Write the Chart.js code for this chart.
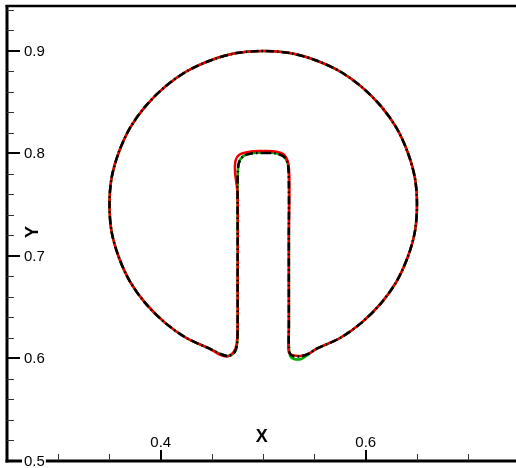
<!DOCTYPE html>
<html>
<head>
<meta charset="utf-8">
<script src="https://cdn.jsdelivr.net/npm/chart.js@4.4.1/dist/chart.umd.min.js"></script>
<style>
  html, body { margin: 0; padding: 0; background: #ffffff; overflow: hidden; }
  #c { display: block; }
</style>
</head>
<body>
<canvas id="c" width="516" height="468"></canvas>
<script>
// ---------- data ----------
const exactX = [0.500,0.512,0.520,0.524,0.525,0.525,0.525,0.525,0.525,0.526,0.530,0.538,0.545,0.551,
  0.575,0.596,0.615,0.630,0.641,0.648,0.650,0.648,0.641,0.630,0.615,0.596,0.575,0.551,0.526,0.500,
  0.474,0.449,0.425,0.404,0.385,0.370,0.359,0.352,0.350,0.352,0.359,0.370,0.385,0.404,0.425,0.449,
  0.458,0.466,0.472,0.4745,0.475,0.475,0.475,0.475,0.476,0.480,0.488,0.500];
const exactY = [0.8005,0.800,0.797,0.790,0.770,0.720,0.670,0.630,0.614,0.605,0.602,0.6025,0.605,0.609,
  0.620,0.635,0.654,0.675,0.699,0.724,0.750,0.776,0.801,0.825,0.846,0.865,0.880,0.891,0.898,0.900,
  0.898,0.891,0.880,0.865,0.846,0.825,0.801,0.776,0.750,0.724,0.699,0.675,0.654,0.635,0.620,0.609,
  0.6045,0.6025,0.606,0.614,0.630,0.670,0.720,0.770,0.790,0.797,0.800,0.8005];

const redX = [0.500,0.512,0.520,0.5245,0.5255,0.525,0.525,0.525,0.5245,0.525,0.528,0.536,0.545,0.551,
  0.575,0.596,0.615,0.630,0.641,0.648,0.650,0.648,0.641,0.630,0.615,0.596,0.575,0.551,0.526,0.500,
  0.474,0.449,0.425,0.404,0.385,0.370,0.359,0.352,0.350,0.352,0.359,0.370,0.385,0.404,0.425,0.449,
  0.458,0.465,0.471,0.474,0.475,0.475,0.475,0.4725,0.4730,0.477,0.488,0.500];
const redY = [0.8025,0.802,0.799,0.790,0.770,0.720,0.670,0.630,0.614,0.606,0.6035,0.6025,0.605,0.609,
  0.620,0.635,0.654,0.675,0.699,0.724,0.750,0.776,0.801,0.825,0.846,0.865,0.880,0.891,0.898,0.900,
  0.898,0.891,0.880,0.865,0.846,0.825,0.801,0.776,0.750,0.724,0.699,0.675,0.654,0.635,0.620,0.609,
  0.6035,0.6020,0.606,0.614,0.630,0.670,0.760,0.782,0.793,0.799,0.802,0.8025];

const greenX = [0.500,0.512,0.520,0.524,0.525,0.525,0.525,0.525,0.525,0.5265,0.530,0.537,0.544,0.551,
  0.575,0.596,0.615,0.630,0.641,0.648,0.650,0.648,0.641,0.630,0.615,0.596,0.575,0.551,0.526,0.500,
  0.474,0.449,0.425,0.404,0.385,0.370,0.359,0.352,0.350,0.352,0.359,0.370,0.385,0.404,0.425,0.449,
  0.458,0.466,0.472,0.4745,0.475,0.475,0.475,0.475,0.476,0.480,0.488,0.500];
const greenY = [0.801,0.8005,0.797,0.790,0.770,0.720,0.670,0.630,0.612,0.602,0.5995,0.5995,0.604,0.609,
  0.620,0.635,0.654,0.675,0.699,0.724,0.750,0.776,0.801,0.825,0.846,0.865,0.880,0.891,0.898,0.900,
  0.898,0.891,0.880,0.865,0.846,0.825,0.801,0.776,0.750,0.724,0.699,0.675,0.654,0.635,0.620,0.609,
  0.6045,0.6025,0.606,0.614,0.630,0.670,0.720,0.770,0.790,0.797,0.800,0.801];

// ---------- ticks ----------
const xMajorTicks = [0.4, 0.6];
const xTickLabels = ['0.4', '0.6'];
const xMinorTicks = [0.3, 0.35, 0.45, 0.5, 0.55, 0.65, 0.7];
const yMajorTicks = [0.5, 0.6, 0.7, 0.8, 0.9];
const yTickLabels = ['0.5', '0.6', '0.7', '0.8', '0.9'];
const yMinorTicks = [0.52,0.54,0.56,0.58,0.62,0.64,0.66,0.68,0.72,0.74,0.76,0.78,0.82,0.84,0.86,0.88,0.92,0.94];
const xTitle = 'X';
const yTitle = 'Y';

function pts(xs, ys) { return xs.map((x, i) => ({ x: x, y: ys[i] })); }

const FONT = '"Liberation Sans", Arial, Helvetica, sans-serif';

const axesPlugin = {
  id: 'tecAxes',
  afterDraw(chart) {
    const c = chart.ctx, xs = chart.scales.x, ys = chart.scales.y, a = chart.chartArea;
    c.save();
    c.strokeStyle = '#000'; c.lineCap = 'butt';
    // axis lines
    c.lineWidth = 3;
    c.beginPath(); c.moveTo(a.left, a.bottom + 1.5); c.lineTo(a.left, a.top - 1); c.stroke();
    c.beginPath(); c.moveTo(a.left - 1.5, a.bottom); c.lineTo(chart.width, a.bottom); c.stroke();
    c.lineWidth = 2.5;
    c.beginPath(); c.moveTo(a.left - 1.5, a.top); c.lineTo(chart.width, a.top); c.stroke();
    // minor ticks
    c.lineWidth = 1; c.strokeStyle = '#333';
    yMinorTicks.forEach(v => { const p = Math.round(ys.getPixelForValue(v)) + 0.5;
      c.beginPath(); c.moveTo(a.left, p); c.lineTo(a.left + 7, p); c.stroke(); });
    xMinorTicks.forEach(v => { const p = Math.round(xs.getPixelForValue(v)) + 0.5;
      c.beginPath(); c.moveTo(p, a.bottom); c.lineTo(p, a.bottom - 7); c.stroke(); });
    // major ticks
    c.lineWidth = 2; c.strokeStyle = '#000';
    yMajorTicks.forEach(v => { const p = Math.round(ys.getPixelForValue(v));
      c.beginPath(); c.moveTo(a.left, p); c.lineTo(a.left + 13, p); c.stroke(); });
    xMajorTicks.forEach(v => { const p = Math.round(xs.getPixelForValue(v));
      c.beginPath(); c.moveTo(p, a.bottom); c.lineTo(p, a.bottom - 11); c.stroke(); });
    // tick labels
    c.font = '15px ' + FONT; c.fillStyle = '#000';
    c.textAlign = 'left'; c.textBaseline = 'middle';
    yMajorTicks.forEach((v, i) => {
      const p = ys.getPixelForValue(v);
      const w = c.measureText(yTickLabels[i]).width;
      c.fillStyle = '#fff'; c.fillRect(a.left + 15, p - 7, w + 3, 14);
      c.fillStyle = '#000'; c.fillText(yTickLabels[i], a.left + 17, p + 0.5);
    });
    c.textAlign = 'center'; c.textBaseline = 'alphabetic';
    xMajorTicks.forEach((v, i) => {
      const p = xs.getPixelForValue(v);
      c.fillText(xTickLabels[i], p, a.bottom - 14);
    });
    // titles
    c.font = 'bold 18px ' + FONT;
    c.textAlign = 'center'; c.textBaseline = 'middle';
    c.fillText(xTitle, xs.getPixelForValue(0.4986), a.bottom - 24);
    c.save();
    c.translate(a.left + 26, ys.getPixelForValue(0.7233));
    c.rotate(-Math.PI / 2);
    c.fillText(yTitle, 0, 0);
    c.restore();
    c.restore();
  }
};

new Chart(document.getElementById('c'), {
  type: 'scatter',
  data: {
    datasets: [
      { label: 'exact', data: pts(exactX, exactY), showLine: true, borderColor: '#000000',
        borderWidth: 2.5, borderDash: [8, 3, 1.5, 3], pointRadius: 0, tension: 0.3, fill: false },
      { label: 'red', data: pts(redX, redY), showLine: true, borderColor: '#ee0000',
        borderWidth: 2.5, pointRadius: 0, tension: 0.3, fill: false },
      { label: 'green', data: pts(greenX, greenY), showLine: true, borderColor: '#00b000',
        borderWidth: 2.5, pointRadius: 0, tension: 0.3, fill: false }
    ]
  },
  options: {
    responsive: false,
    animation: false,
    layout: { padding: { left: 7, top: 6, right: 0, bottom: 7 } },
    plugins: { legend: { display: false }, tooltip: { enabled: false } },
    scales: {
      x: { type: 'linear', min: 0.25, max: 0.7466, display: false },
      y: { type: 'linear', min: 0.5, max: 0.9439, display: false }
    }
  },
  plugins: [axesPlugin]
});
</script>
</body>
</html>
